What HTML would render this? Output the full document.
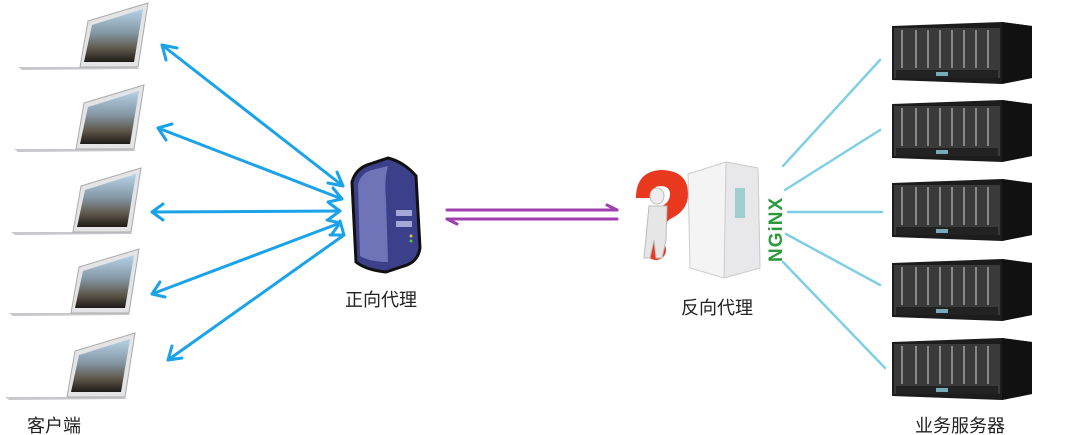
<!DOCTYPE html>
<html><head><meta charset="utf-8"><style>
html,body{margin:0;padding:0;background:#fff;}
svg{display:block;}
text{font-family:"Liberation Sans","Noto Sans CJK SC",sans-serif;font-size:18px;fill:#222;}
</style></head><body>
<svg width="1080" height="435" viewBox="0 0 1080 435" xmlns="http://www.w3.org/2000/svg">
<defs>
<linearGradient id="scr" x1="0" y1="0" x2="0" y2="1">
<stop offset="0" stop-color="#b5d2e6"/><stop offset="0.45" stop-color="#8497a4"/><stop offset="0.75" stop-color="#5e574a"/><stop offset="1" stop-color="#1e1c18"/>
</linearGradient>
<g id="laptop">
<polygon points="0,64 118,64 122,66 4,67" fill="#c8c8cc"/>
<polygon points="70,18 130,0 120,64 62,64" fill="#e4e4e6" stroke="#aaa" stroke-width="1"/>
<polygon points="74,22 125,6 116,59 66,59" fill="url(#scr)"/>
</g>
<g id="rack">
<polygon points="0,4 110,0 140,4 140,56 110,62 0,58" fill="#1c1c1c"/>
<rect x="2" y="6" width="106" height="50" fill="#3a3a3a"/>
<g stroke="#888" stroke-width="2">
<line x1="10" y1="8" x2="10" y2="46"/><line x1="24" y1="8" x2="24" y2="46"/><line x1="36" y1="8" x2="36" y2="46"/><line x1="48" y1="8" x2="48" y2="46"/><line x1="60" y1="8" x2="60" y2="46"/><line x1="72" y1="8" x2="72" y2="46"/><line x1="84" y1="8" x2="84" y2="46"/><line x1="96" y1="8" x2="96" y2="46"/>
</g>
<rect x="4" y="48" width="102" height="8" fill="#222"/>
<rect x="44" y="50" width="12" height="4" fill="#7ab"/>
<polygon points="110,0 140,4 140,56 110,62" fill="#111"/>
</g>
</defs>

<use href="#laptop" x="18" y="3"/>
<use href="#laptop" x="14" y="85"/>
<use href="#laptop" x="11" y="168"/>
<use href="#laptop" x="9" y="249"/>
<use href="#laptop" x="5" y="333"/>

<g stroke="#1aa3e8" stroke-width="3" fill="none" stroke-linecap="round" stroke-linejoin="round">
<line x1="162" y1="45" x2="343" y2="186"/>
<polyline points="166,60 162,45 177,48"/><polyline points="328,183 343,186 337,172"/>
<line x1="158" y1="128" x2="342" y2="199"/>
<polyline points="166,140 158,128 172,124"/><polyline points="328,202 342,199 333,188"/>
<line x1="152" y1="212" x2="340" y2="211"/>
<polyline points="163,220 152,212 163,204"/><polyline points="329,203 340,211 329,219"/>
<line x1="152" y1="294" x2="340" y2="223"/>
<polyline points="165,297 152,294 160,282"/><polyline points="327,220 340,223 332,234"/>
<line x1="168" y1="360" x2="344" y2="235"/>
<polyline points="182,358 168,360 172,346"/><polyline points="330,235 344,235 340,221"/>
</g>

<g>
<path d="M352,182 Q356,168 370,164 L388,158 Q404,162 416,176 L420,248 Q418,262 404,266 L386,272 Q366,270 356,262 Z" fill="#3c3f8a" stroke="#111" stroke-width="3"/>
<path d="M358,184 Q362,172 372,170 L388,166 Q384,180 386,200 L388,262 Q370,262 360,256 Z" fill="#6f74b8"/>
<rect x="396" y="210" width="16" height="6" fill="#a5a9d8"/>
<rect x="396" y="221" width="16" height="6" fill="#a5a9d8"/>
<circle cx="411" cy="236" r="1.5" fill="#cc4"/><circle cx="411" cy="241" r="1.5" fill="#4c4"/>
</g>
<text x="345" y="306">正向代理</text>

<g stroke="#a040b0" stroke-width="3" fill="none" stroke-linecap="round">
<line x1="447" y1="210" x2="617" y2="210"/><line x1="607" y1="205" x2="617" y2="210"/>
<line x1="447" y1="219" x2="617" y2="219"/><line x1="457" y1="224" x2="447" y2="219"/>
</g>

<path d="M636,198 Q636,172 660,170 Q688,170 688,194 Q688,210 672,218 Q664,222 664,232 L648,232 Q648,214 662,206 Q670,202 670,194 Q670,186 660,186 Q652,186 652,198 Z" fill="#e8391f"/>
<circle cx="656" cy="250" r="10" fill="#e8391f"/>
<ellipse cx="657" cy="196" rx="7" ry="8" fill="#eee" stroke="#bbb"/>
<path d="M649,206 L667,206 L666,240 L662,258 L656,258 L654,240 L650,258 L644,258 Z" fill="#e6e6e6" stroke="#bbb"/>

<polygon points="688,174 726,162 758,168 760,268 724,278 690,268" fill="#f4f4f4" stroke="#ccc"/>
<polygon points="726,162 758,168 760,268 724,278" fill="#e8e8ea" stroke="#ccc"/>
<rect x="735" y="188" width="10" height="30" fill="#9ecfd0"/>
<text x="0" y="0" transform="translate(782,262) rotate(-90)" style="font-size:19px;font-weight:bold;fill:#2a9a3a;letter-spacing:1px;">NGiNX</text>
<text x="681" y="314">反向代理</text>

<g stroke="#7fd0e6" stroke-width="2.5" stroke-linecap="round">
<line x1="783" y1="166" x2="880" y2="60"/>
<line x1="785" y1="190" x2="880" y2="130"/>
<line x1="788" y1="212" x2="882" y2="212"/>
<line x1="786" y1="234" x2="880" y2="285"/>
<line x1="783" y1="262" x2="885" y2="368"/>
</g>

<use href="#rack" x="892" y="22"/>
<use href="#rack" x="892" y="100"/>
<use href="#rack" x="892" y="179"/>
<use href="#rack" x="892" y="259"/>
<use href="#rack" x="892" y="338"/>

<text x="27" y="432">客户端</text>
<text x="915" y="432">业务服务器</text>
</svg>
</body></html>
